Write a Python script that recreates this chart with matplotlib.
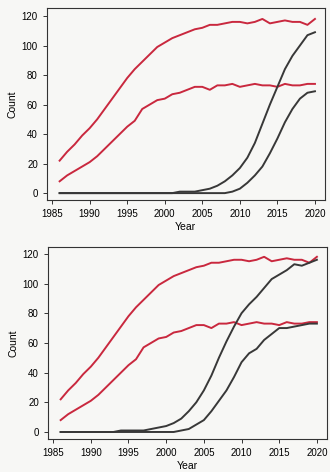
import matplotlib
matplotlib.use("Agg")
import matplotlib.pyplot as plt

plt.rcParams["font.family"] = ["Liberation Sans", "DejaVu Sans"]

years = list(range(1986, 2021))

# red series (same in both panels)
red_high = [22, 28, 33, 39, 44, 50, 57, 64, 71, 78, 84, 89, 94, 99, 102, 105, 107,
            109, 111, 112, 114, 114, 115, 116, 116, 115, 116, 118, 115, 116, 117,
            116, 116, 114, 118]
red_low = [8, 12, 15, 18, 21, 25, 30, 35, 40, 45, 49, 57, 60, 63, 64, 67, 68, 70,
           72, 72, 70, 73, 73, 74, 72, 73, 74, 73, 73, 72, 74, 73, 73, 74, 74]

# black series, top panel
top_black_high = [0] * 16 + [1, 1, 1, 2, 3, 5, 8, 12, 17, 24, 34, 47, 60, 72, 84,
                             93, 100, 107, 109]
top_black_low = [0] * 23 + [1, 3, 7, 12, 18, 27, 37, 48, 57, 64, 68, 69]

# black series, bottom panel
bot_black_high = [0] * 8 + [1, 1, 1, 1, 2, 3, 4, 6, 9, 14, 20, 28, 38, 50, 61, 71,
                            80, 86, 91, 97, 103, 106, 109, 113, 112, 114, 116]
bot_black_low = [0] * 16 + [1, 2, 5, 8, 14, 21, 28, 37, 47, 53, 56, 62, 66, 70, 70,
                            71, 72, 73, 73]

red = "#c9283e"
black = "#383838"

fig = plt.figure(figsize=(3.30, 4.72), dpi=100)
fig.patch.set_facecolor("#f7f7f5")

panels = [
  ([0.142, 0.576, 0.842, 0.407], top_black_high, top_black_low, (-4.75, 125.4)),
  ([0.145, 0.070, 0.845, 0.407], bot_black_high, bot_black_low, (-4.7, 124.7)),
]

for rect, bh, bl, ylim in panels:
  ax = fig.add_axes(rect)
  ax.set_facecolor("#f7f7f5")
  ax.plot(years, red_high, color=red, lw=1.4)
  ax.plot(years, red_low, color=red, lw=1.4)
  ax.plot(years, bh, color=black, lw=1.4)
  ax.plot(years, bl, color=black, lw=1.4)
  ax.set_xlim(1984.3, 2021.3)
  ax.set_ylim(*ylim)
  ax.set_xticks(range(1985, 2021, 5))
  ax.set_yticks(range(0, 121, 20))
  ax.tick_params(labelsize=7, length=3, width=0.7, color="#333333")
  for s in ax.spines.values():
    s.set_linewidth(0.8)
    s.set_color("#333333")
  ax.set_xlabel("Year", fontsize=7.5, labelpad=2)
  ax.set_ylabel("Count", fontsize=7.5, labelpad=3)

fig.savefig("out.png", dpi=100, facecolor=fig.get_facecolor())
